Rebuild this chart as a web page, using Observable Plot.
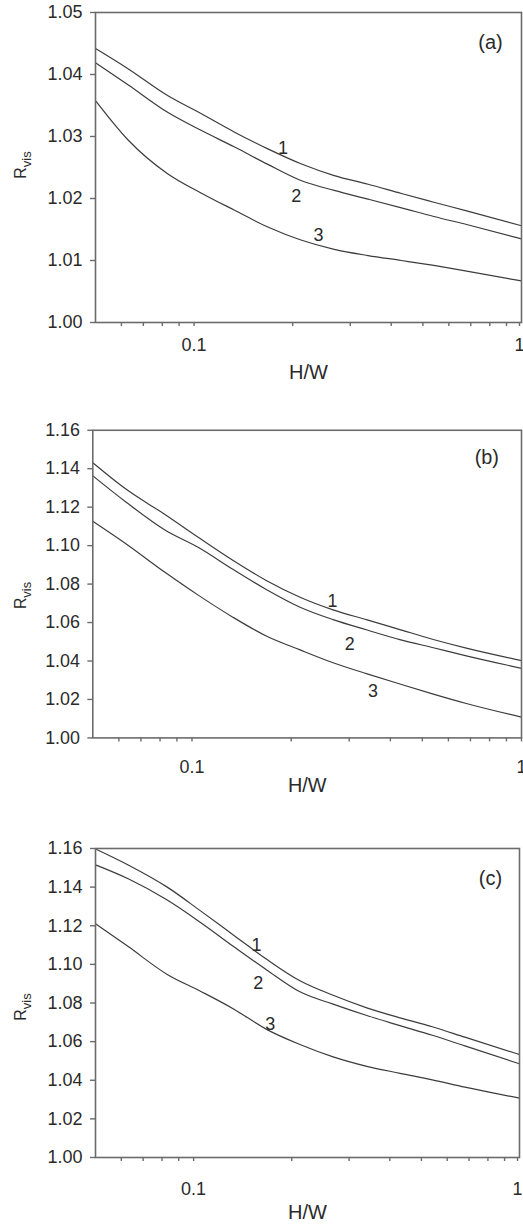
<!DOCTYPE html>
<html>
<head>
<meta charset="utf-8">
<script src="https://cdn.jsdelivr.net/npm/d3@7"></script>
<script src="https://cdn.jsdelivr.net/npm/@observablehq/plot@0.6"></script>
<style>
  html, body { margin: 0; padding: 0; background: #fff; }
  body { width: 523px; height: 1225px; overflow: hidden; position: relative; font-family: "Liberation Sans", Arial, sans-serif; }
  .panel { position: absolute; left: 0; }
</style>
</head>
<body>
<div id="pa" class="panel" style="top:0px"></div>
<div id="pb" class="panel" style="top:400px"></div>
<div id="pc" class="panel" style="top:800px"></div>
<script>
// ---- shared x (H/W) sample positions ----
const hw = [0.05, 0.063, 0.083, 0.105, 0.133, 0.168, 0.212, 0.268, 0.34, 0.43, 0.54, 0.68, 1];

// ---- axis ticks ----
const xMajorTicks = [0.1, 1];
const xMajorLabels = ["0.1", "1"];
const xMinorTicks = [0.06, 0.07, 0.08, 0.09, 0.2, 0.3, 0.4, 0.5, 0.6, 0.7, 0.8, 0.9];
const yTicksA = [1.00, 1.01, 1.02, 1.03, 1.04, 1.05];
const yTicksBC = [1.00, 1.02, 1.04, 1.06, 1.08, 1.10, 1.12, 1.14, 1.16];

// ---- panel (a) ----
const a1 = [1.0442, 1.0409, 1.0366, 1.0337, 1.0307, 1.0280, 1.0256, 1.0237, 1.0223, 1.0208, 1.0194, 1.0180, 1.0156];
const a2 = [1.0419, 1.0383, 1.0339, 1.0310, 1.0283, 1.0255, 1.0229, 1.0213, 1.0199, 1.0185, 1.0171, 1.0158, 1.0135];
const a3 = [1.0358, 1.0294, 1.0240, 1.0209, 1.0181, 1.0154, 1.0133, 1.0118, 1.0108, 1.0100, 1.0092, 1.0083, 1.0067];

// ---- panel (b) ----
const b1 = [1.1431, 1.1294, 1.1161, 1.1041, 1.0924, 1.0819, 1.0733, 1.0666, 1.0614, 1.0562, 1.0512, 1.0467, 1.0402];
const b2 = [1.1363, 1.1227, 1.1080, 1.0989, 1.0877, 1.0772, 1.0681, 1.0615, 1.0561, 1.0510, 1.0469, 1.0427, 1.0362];
const b3 = [1.1127, 1.1010, 1.0860, 1.0740, 1.0628, 1.0530, 1.0459, 1.0391, 1.0333, 1.0279, 1.0228, 1.0179, 1.0108];

// ---- panel (c) ----
const c1 = [1.1598, 1.1515, 1.1400, 1.1277, 1.1150, 1.1025, 1.0915, 1.0840, 1.0775, 1.0723, 1.0677, 1.0623, 1.0533];
const c2 = [1.1515, 1.1443, 1.1333, 1.1217, 1.1091, 1.0970, 1.0858, 1.0794, 1.0735, 1.0683, 1.0633, 1.0578, 1.0485];
const c3 = [1.1210, 1.1092, 1.0948, 1.0861, 1.0768, 1.0662, 1.0585, 1.0521, 1.0472, 1.0436, 1.0402, 1.0364, 1.0307];

// ---- curve labels (series name, H/W, R_vis) ----
const seriesNames = ["1", "2", "3"];
const labelsA = [[0.187, 1.0281], [0.205, 1.0203], [0.240, 1.0140]];
const labelsB = [[0.267, 1.0712], [0.301, 1.0485], [0.354, 1.0243]];
const labelsC = [[0.156, 1.1098], [0.158, 1.0901], [0.172, 1.0689]];

const axisColor = "#6b6b6b";
const lineColor = "#3c3c3c";
const textColor = "#2a2a2a";

function tidy(series) {
  const rows = [];
  series.forEach((ys, i) => ys.forEach((y, j) => rows.push({s: seriesNames[i], x: hw[j], y})));
  return rows;
}

function panel(el, o) {
  const rows = tidy(o.series);
  const lab = o.labels.map((p, i) => ({t: seriesNames[i], x: p[0], y: p[1]}));
  const height = o.marginTop + o.plotHeight + o.marginBottom;
  const fig = Plot.plot({
    width: o.width,
    height,
    marginLeft: o.marginLeft,
    marginRight: o.marginRight,
    marginTop: o.marginTop,
    marginBottom: o.marginBottom,
    style: {fontFamily: '"Liberation Sans", Arial, sans-serif', fontSize: "18px", color: textColor, background: "white", overflow: "visible"},
    x: {type: "log", domain: [0.05, 1]},
    y: {domain: o.yDomain},
    marks: [
      Plot.line(rows, {x: "x", y: "y", z: "s", curve: "monotone-x", stroke: lineColor, strokeWidth: 1.2}),
      Plot.frame({stroke: axisColor, strokeWidth: 1.6}),
      Plot.axisY({ticks: o.yTicks, tickFormat: d3.format(".2f"), tickSize: 5, tickPadding: 8, stroke: axisColor, strokeWidth: 1.4, fill: textColor, label: null, fontSize: 18}),
      Plot.axisX({ticks: xMinorTicks, tickFormat: () => "", tickSize: 4, stroke: axisColor, strokeWidth: 1.4, label: null}),
      Plot.axisX({ticks: [xMajorTicks[0]], tickFormat: () => xMajorLabels[0], tickSize: 4, tickPadding: o.xTickPad, stroke: axisColor, strokeWidth: 1.4, fill: textColor, label: null, fontSize: 18}),
      Plot.axisX({ticks: [xMajorTicks[1]], tickFormat: () => xMajorLabels[1], tickSize: 4, tickPadding: o.xTickPad, dx: o.oneDx, stroke: axisColor, strokeWidth: 1.4, fill: textColor, label: null, fontSize: 18}),
      Plot.text(lab, {x: "x", y: "y", text: "t", fontSize: 18, fill: textColor}),
      Plot.text([o.tag], {frameAnchor: "top-right", lineAnchor: "middle", dx: o.tagDx, dy: o.tagDy, textAnchor: "middle", fontSize: 20, fill: textColor}),
      Plot.text(["H/W"], {frameAnchor: "bottom", lineAnchor: "middle", dy: o.xLabelDy, fontSize: 20, fill: textColor})
    ]
  });
  // y-axis title with subscript
  const svg = d3.select(fig);
  const t = svg.append("text")
    .attr("transform", `translate(${o.yLabelX},${o.yLabelY}) rotate(-90)`)
    .attr("text-anchor", "middle")
    .attr("fill", textColor)
    .attr("font-size", 16);
  t.append("tspan").text("R");
  t.append("tspan").attr("font-size", 13).attr("dy", 5).text("vis");
  el.appendChild(fig);
}

panel(document.getElementById("pa"), {
  series: [a1, a2, a3], labels: labelsA, tag: "(a)",
  yDomain: [1.00, 1.05], yTicks: yTicksA,
  width: 523, marginLeft: 95, marginRight: 2, marginTop: 12, plotHeight: 310, marginBottom: 68,
  xTickPad: 12, oneDx: -2, xLabelDy: 50, tagDx: -31, tagDy: 30, yLabelX: 26, yLabelY: 165
});
panel(document.getElementById("pb"), {
  series: [b1, b2, b3], labels: labelsB, tag: "(b)",
  yDomain: [1.00, 1.16], yTicks: yTicksBC,
  width: 527, marginLeft: 93, marginRight: 2, marginTop: 30, plotHeight: 310, marginBottom: 60,
  xTickPad: 19, oneDx: 0, xLabelDy: 48, tagDx: -35, tagDy: 28, yLabelX: 26, yLabelY: 197
});
panel(document.getElementById("pc"), {
  series: [c1, c2, c3], labels: labelsC, tag: "(c)",
  yDomain: [1.00, 1.16], yTicks: yTicksBC,
  width: 523, marginLeft: 95, marginRight: 4, marginTop: 48, plotHeight: 309, marginBottom: 68,
  xTickPad: 21, oneDx: -2, xLabelDy: 55, tagDx: -29, tagDy: 30, yLabelX: 26, yLabelY: 207
});
</script>
</body>
</html>
